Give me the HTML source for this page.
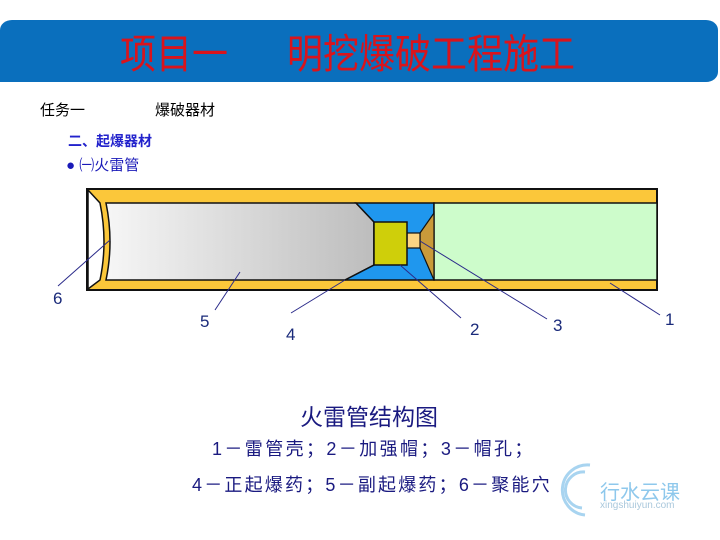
<!DOCTYPE html>
<html><head><meta charset="utf-8"><style>
body{margin:0;width:720px;height:540px;background:#fff;position:relative;overflow:hidden;font-family:"Liberation Sans","Noto Sans CJK SC",sans-serif}
.t{position:absolute;white-space:nowrap}
</style></head><body>
<div style="position:absolute;left:0;top:20px;width:718px;height:62px;background:#0a6fbd;border-radius:12px 12px 12px 0 / 10px 10px 10px 0"></div>
<div class="t" style="left:120px;top:32px;font-size:36px;line-height:40px;color:#d9141c;transform:scaleY(1.12);transform-origin:left top">项目一<span style="display:inline-block;width:59px"></span>明挖爆破工程施工</div>
<div class="t" style="left:40px;top:99px;font-size:15px;color:#000">任务一</div>
<div class="t" style="left:155px;top:99px;font-size:15px;color:#000">爆破器材</div>
<div class="t" style="left:68px;top:131px;font-size:14px;font-weight:bold;color:#2222cc">二、起爆器材</div>
<div class="t" style="left:66px;top:154px;font-size:15px;color:#1a1ab8">● ㈠火雷管</div>
<svg width="720" height="540" style="position:absolute;left:0;top:0">
<defs><linearGradient id="g" x1="0" x2="1"><stop offset="0" stop-color="#f6f6f6"/><stop offset="1" stop-color="#bdbdbd"/></linearGradient></defs>
<rect x="87" y="189" width="570" height="101" fill="#fbc73a" stroke="#111" stroke-width="2"/>
<path d="M88,190 L100,203 Q108,242 100,280 L88,289 Z" fill="#fff" stroke="#111" stroke-width="1.5"/>
<path d="M106,203 L356,203 L374,222 L374,265 L345,280 L106,280 Q114,242 106,203 Z" fill="url(#g)" stroke="#111" stroke-width="1.5"/>
<path d="M356,203 L434,203 L434,280 L345,280 L374,265 L374,222 Z" fill="#1f97ee" stroke="#111" stroke-width="1.5"/>
<rect x="434" y="203" width="223" height="77" fill="#cdfccb" stroke="#111" stroke-width="1.5"/>
<path d="M420,233 L434,213 L434,280 L420,248 Z" fill="#c99a3a" stroke="#111" stroke-width="1.2"/>
<rect x="407" y="233" width="13" height="15" fill="#fbd583" stroke="#111" stroke-width="1.2"/>
<rect x="374" y="222" width="33" height="43" fill="#cfcf0a" stroke="#111" stroke-width="1.5"/>
<g stroke="#2a2a8a" stroke-width="1">
<line x1="58" y1="286" x2="110" y2="240"/><line x1="215" y1="310" x2="240" y2="272"/>
<line x1="291" y1="313" x2="345" y2="280"/><line x1="461" y1="318" x2="400" y2="265"/>
<line x1="547" y1="319" x2="420" y2="241"/><line x1="660" y1="315" x2="610" y2="283"/>
</g>
<g fill="#1a2a7a" font-size="17" font-family="Liberation Sans, sans-serif">
<text x="53" y="304">6</text><text x="200" y="327">5</text><text x="286" y="340">4</text>
<text x="470" y="335">2</text><text x="553" y="331">3</text><text x="665" y="325">1</text>
</g>
<g fill="none" stroke="#a8d4f0" stroke-width="3"><path d="M590,465 A22,22 0 1,0 585,515"/><path d="M585,472 A15,15 0 1,0 582,508"/></g>
</svg>
<div class="t" style="left:300px;top:398px;font-size:23px;color:#1a1a80">火雷管结构图</div>
<div class="t" style="left:212px;top:435px;font-size:18px;letter-spacing:2.4px;color:#1a1a80">1－雷管壳；2－加强帽；3－帽孔；</div>
<div class="t" style="left:192px;top:471px;font-size:18px;letter-spacing:2.2px;color:#1a1a80">4－正起爆药；5－副起爆药；6－聚能穴</div>
<div class="t" style="left:600px;top:476px;font-size:20px;color:#8ec8ec">行水云课</div>
<div class="t" style="left:600px;top:500px;font-size:10px;color:#aac8dc">xingshuiyun.com</div>
</body></html>
